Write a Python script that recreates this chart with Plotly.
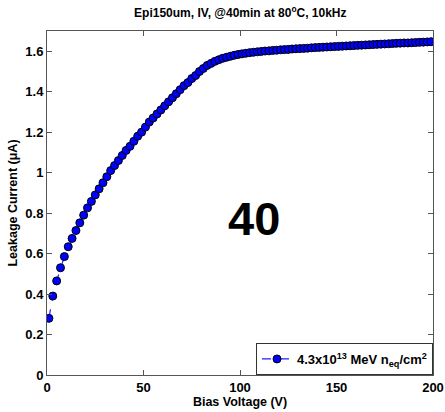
import plotly.graph_objects as go

# bias voltage (V) and leakage current (uA)
voltage = [1, 3, 5, 7, 9, 11, 13, 15, 17, 19,
           21, 23, 25, 27, 29, 31, 33, 35, 37, 39,
           41, 43, 45, 47, 49, 51, 53, 55, 57, 59,
           61, 63, 65, 67, 69, 71, 73, 75, 77, 79,
           81, 83, 85, 87, 89, 91, 93, 95, 97, 99,
           101, 103, 105, 107, 109, 111, 113, 115, 117, 119,
           121, 123, 125, 127, 129, 131, 133, 135, 137, 139,
           141, 143, 145, 147, 149, 151, 153, 155, 157, 159,
           161, 163, 165, 167, 169, 171, 173, 175, 177, 179,
           181, 183, 185, 187, 189, 191, 193, 195, 197, 199]
current = [0.28, 0.39, 0.465, 0.53, 0.585, 0.634, 0.675, 0.714, 0.752, 0.790,
           0.826, 0.858, 0.89, 0.92, 0.95, 0.98, 1.01, 1.035, 1.06, 1.085,
           1.11, 1.13, 1.155, 1.18, 1.20, 1.225, 1.25, 1.27, 1.29, 1.31,
           1.33, 1.35, 1.37, 1.39, 1.41, 1.43, 1.445, 1.465, 1.48, 1.50,
           1.515, 1.53, 1.54, 1.55, 1.558, 1.565, 1.57, 1.575, 1.58, 1.584,
           1.587, 1.59, 1.593, 1.595, 1.597, 1.599, 1.601, 1.602, 1.604, 1.605,
           1.607, 1.608, 1.609, 1.611, 1.612, 1.613, 1.614, 1.615, 1.617, 1.618,
           1.619, 1.620, 1.621, 1.622, 1.623, 1.624, 1.625, 1.626, 1.627, 1.628,
           1.629, 1.630, 1.631, 1.632, 1.633, 1.634, 1.635, 1.636, 1.637, 1.638,
           1.639, 1.640, 1.641, 1.641, 1.642, 1.643, 1.644, 1.645, 1.646, 1.647]

x_ticks = [0, 50, 100, 150, 200]
y_ticks = [0, 0.2, 0.4, 0.6, 0.8, 1, 1.2, 1.4, 1.6]
y_labels = ['0', '0.2', '0.4', '0.6', '0.8', '1', '1.2', '1.4', '1.6']

font = 'Liberation Sans, Arial, sans-serif'
bold = lambda size: dict(family=font, size=size, color='black', weight='bold')

fig = go.Figure()
fig.add_trace(go.Scatter(
    x=voltage, y=current, mode='lines+markers',
    name='4.3x10<sup>13</sup> MeV n<sub>eq</sub>/cm<sup>2</sup>',
    line=dict(color='#1f1fff', width=1.2, dash='dash'),
    marker=dict(color='#0000ff', size=8, line=dict(color='black', width=1)),
))

fig.add_annotation(text='40', x=107, y=0.775, xref='x', yref='y',
                   showarrow=False, font=bold(47))

axis = dict(showline=True, linecolor='#555', linewidth=1, mirror='allticks',
            ticks='inside', ticklen=5, tickcolor='#555', showgrid=False, zeroline=False,
            tickfont=bold(13), automargin=False)

fig.update_layout(
    width=445, height=412,
    margin=dict(l=47, r=12, t=31, b=37),
    paper_bgcolor='white', plot_bgcolor='white',
    font=dict(family=font, color='black'),
    title=dict(text='Epi150um, IV, @40min at 80<sup>o</sup>C, 10kHz',
               x=0.54, xanchor='center', y=0.98, yanchor='top', pad=dict(t=0),
               font=bold(12)),
    xaxis=dict(axis, range=[0, 200], tickvals=x_ticks,
               title=dict(text='Bias Voltage (V)', font=bold(12.5), standoff=3)),
    yaxis=dict(axis, range=[0, 1.7], tickvals=y_ticks, ticktext=y_labels,
               title=dict(text='Leakage Current (\u03bcA)', font=bold(12.5), standoff=4)),
    legend=dict(x=1, y=0, xanchor='right', yanchor='bottom',
                bordercolor='#333', borderwidth=1, bgcolor='white',
                font=bold(13), itemwidth=30, tracegroupgap=0),
    showlegend=True,
)

# drop the default 8px page margin so the figure fills the window exactly
fig.write_html('out.html', config={'displayModeBar': False},
               post_script="document.body.style.margin='0';document.body.style.overflow='hidden';")
